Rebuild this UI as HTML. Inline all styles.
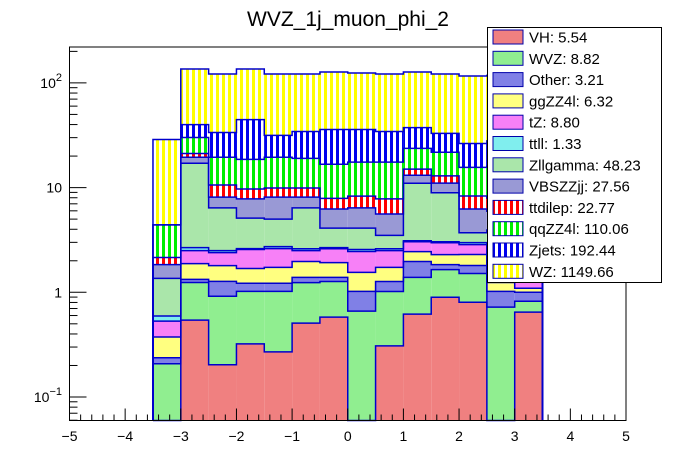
<!DOCTYPE html>
<html><head><meta charset="utf-8"><style>
body{margin:0;background:#fff;}
svg{display:block;font-family:"Liberation Sans",Arial,sans-serif;}
</style></head><body>
<svg id="c" width="696" height="472" viewBox="0 0 696 472" xmlns="http://www.w3.org/2000/svg">
<defs>
<pattern id="p-red-v" width="6" height="6" patternUnits="userSpaceOnUse"><rect width="6" height="6" fill="#fff"/><rect width="3" height="6" fill="#ff0000"/></pattern>
<pattern id="p-green-v" width="6" height="6" patternUnits="userSpaceOnUse"><rect width="6" height="6" fill="#fff"/><rect width="3" height="6" fill="#00ee00"/></pattern>
<pattern id="p-blue-v" width="6" height="6" patternUnits="userSpaceOnUse"><rect width="6" height="6" fill="#fff"/><rect width="3" height="6" fill="#0000ee"/></pattern>
<pattern id="p-yellow-v" width="6" height="6" patternUnits="userSpaceOnUse"><rect width="6" height="6" fill="#fff"/><rect width="3" height="6" fill="#ffff00"/></pattern>
</defs>
<text x="348" y="26" font-size="21" text-anchor="middle">WVZ_1j_muon_phi_2</text>
<g id="bars"></g>
<g id="axes"></g>
<g id="legend"></g>
</svg>
<script>
// data
const binLow = [-3.5,-3,-2.5,-2,-1.5,-1,-0.5,0,0.5,1,1.5,2,2.5,3];
const binWidth = 0.5;
const seriesNames = ["VH","WVZ","Other","ggZZ4l","tZ","ttll","Zllgamma","VBSZZjj","ttdilep","qqZZ4l","Zjets","WZ"];
const legendValues = ["5.54","8.82","3.21","6.32","8.80","1.33","48.23","27.56","22.77","110.06","192.44","1149.66"];
const VH       = [0,0.543,0.203,0.322,0.270,0.508,0.579,0,0.308,0.618,0.897,0.804,0,0.646];
const WVZ      = [0.208,0.697,0.714,0.698,0.75,0.73,0.69,0.661,0.71,0.77,0.75,0.71,0.721,0.176];
const Other    = [0.029,0.09,0.353,0.20,0.20,0.15,0.12,0.36,0.25,0.58,0.19,0.29,0.30,0.18];
const ggZZ4l   = [0.137,0.55,0.53,0.47,0.51,0.58,0.53,0.53,0.46,0.48,0.45,0.49,0.22,0.09];
const tZ       = [0.157,0.62,0.59,0.87,0.88,0.53,0.69,0.90,0.77,0.59,0.69,0.56,0.6,0.6];
const ttll     = [0.062,0.17,0.11,0.05,0.12,0.11,0.06,0.11,0.11,0.07,0.06,0.13,0.1,0.1];
const Zllgamma = [0.767,14.4,3.9,2.5,2.27,3.8,1.43,1.54,0.89,7.9,5.9,0.72,2,2];
const VBSZZjj  = [0.48,2.4,1.7,2.7,3.1,1.7,2.15,2.3,2.1,2.1,2.1,2.55,2,2];
const ttdilep  = [0.31,1.7,2.5,1.9,1.8,1.8,1.65,1.9,2.2,1.9,1.9,2.05,2,2];
const qqZZ4l   = [2.25,8.9,8.9,8.9,9.6,9.1,8.8,9.2,9.7,8.7,8.8,7.3,8,8];
const Zjets    = [0,9.9,14.1,26.0,12.0,15.3,19.2,18.4,16.8,13.7,11.2,10.8,12,12];
const WZ       = [24.4,95.8,88.1,91.2,90.2,87.4,91.1,88.5,87.4,89.6,88.8,90.1,90,90];
const series = [VH,WVZ,Other,ggZZ4l,tZ,ttll,Zllgamma,VBSZZjj,ttdilep,qqZZ4l,Zjets,WZ];
const xTicks = [-5,-4,-3,-2,-1,0,1,2,3,4,5];
const yDecades = [-1,0,1,2];
const yDecadeLabels = ["10<tspan dy='-7' font-size='11'>\u22121</tspan>","1","10","10<tspan dy='-7' font-size='11'>2</tspan>"];

const fills = ["#f08080","#90ee90","#8080e6","#ffff80","#f780f7","#80eeee","#aae6aa","#9999d5","url(#p-red-v)","url(#p-green-v)","url(#p-blue-v)","url(#p-yellow-v)"];
const L=69.5,R=626,T=47,B=420.5;
const X = v => L + (v+5)/10*(R-L);
const Y = v => { if(v<=0) return B; const y = 292.3 - 104.7*Math.log10(v); return Math.min(B,Math.max(T,y)); };
const NS="http://www.w3.org/2000/svg";
function mk(tag, attrs, parent){ const e=document.createElementNS(NS,tag); for(const k in attrs) e.setAttribute(k,attrs[k]); parent.appendChild(e); return e; }

const bars=document.getElementById('bars');
const nb=binLow.length;
let cum=new Array(nb).fill(0);
const tops=[];
series.forEach((s,si)=>{
  const low=cum.slice();
  cum=cum.map((c,i)=>c+s[i]);
  tops.push(cum.slice());
  for(let i=0;i<nb;i++){
    if(s[i]<=0) continue;
    const y1=Y(cum[i]), y0=Y(low[i]);
    if(y0-y1<=0) continue;
    const r=mk('rect',{x:X(binLow[i]),y:y1,width:X(binLow[i]+binWidth)-X(binLow[i]),height:y0-y1,fill:fills[si]},bars);
    
    
  }
});
tops.forEach((t,si)=>{
  let d='M'+X(binLow[0])+','+B;
  for(let i=0;i<nb;i++){ d+=' L'+X(binLow[i])+','+Y(t[i])+' L'+X(binLow[i]+binWidth)+','+Y(t[i]); }
  d+=' L'+X(binLow[nb-1]+binWidth)+','+B;
  const p=mk('path',{d:d,fill:'none',stroke:'#0000cc','stroke-width':1.5},bars);
  
  
});

const ax=document.getElementById('axes');
const fr=mk('rect',{x:L,y:T,width:R-L,height:B-T,fill:'none',stroke:'#000','stroke-width':1},ax);


for(let v=-5; v<=5.001; v+=0.2){
  const major=Math.abs(v-Math.round(v))<1e-6;
  const x=X(v);
  mk('line',{x1:x,x2:x,y1:B,y2:B-(major?12:6),stroke:'#000','stroke-width':1},ax);
}
xTicks.forEach(v=>{
  const t=mk('text',{x:X(v),y:441,'font-size':14,'text-anchor':'middle'},ax);
  t.textContent=(v<0?'\u2212':'')+Math.abs(v);
  
  
});
for(let d=-2; d<=2; d++){
  for(let m=1;m<=9;m++){
    const v=m*Math.pow(10,d); const yy=292.3-104.7*Math.log10(v);
    if(yy<T||yy>B) continue;
    mk('line',{x1:L,x2:L+(m==1?17:8),y1:yy,y2:yy,stroke:'#000','stroke-width':1},ax);
  }
}
yDecades.forEach((d,i)=>{
  const t=mk('text',{x:62,y:292.3-104.7*d+5,'font-size':14,'text-anchor':'end'},ax);
  t.innerHTML=yDecadeLabels[i];
  
  
});

const lg=document.getElementById('legend');
const box=mk('rect',{x:487.5,y:27.5,width:174,height:255,fill:'#fff',stroke:'#000','stroke-width':1},lg);


seriesNames.forEach((n,i)=>{
  const cy=37+i*21.3;
  const g=mk('g',{},lg);
  
  
  mk('rect',{x:493,y:cy-7,width:30,height:14,fill:fills[i],stroke:'#0000aa','stroke-width':1},g);
  const t=mk('text',{x:529,y:cy+5.5,'font-size':15},g);
  t.textContent=n+': '+legendValues[i];
});
</script>
</body></html>
